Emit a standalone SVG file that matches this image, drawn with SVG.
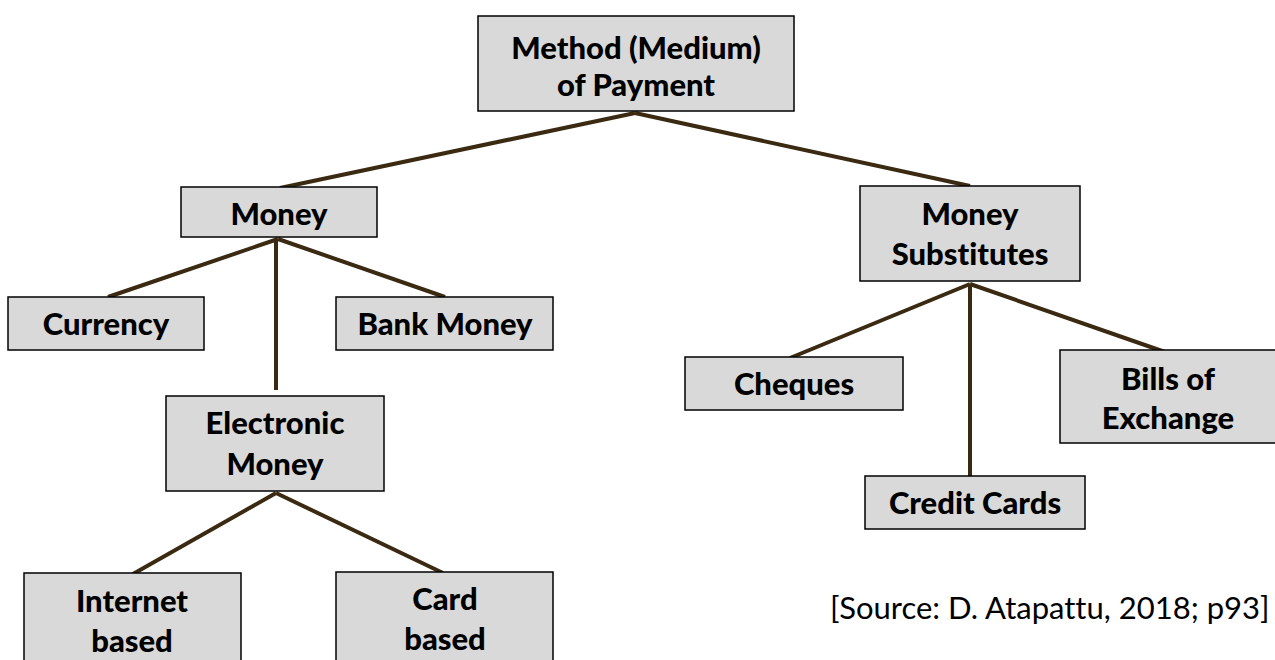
<svg xmlns="http://www.w3.org/2000/svg" width="1275" height="660" viewBox="0 0 1275 660">
<style>
.box{fill:#d9d9d9;stroke:#000;stroke-width:1.5}
.lbl{font-family:Lato,"Open Sans",sans-serif;font-weight:900;font-size:31px;fill:#000;text-anchor:middle;font-variant-ligatures:none}
.src{font-family:Lato,"Open Sans",sans-serif;font-size:31px;fill:#000;font-variant-ligatures:none}
.conn line{stroke:#3b2a12;stroke-width:4}
</style>
<rect width="1275" height="660" fill="#fff"/>
<g class="conn">
<line x1="635" y1="113" x2="280" y2="188"/>
<line x1="635" y1="113" x2="970" y2="186"/>
<line x1="278" y1="239" x2="108" y2="297"/>
<line x1="278" y1="239" x2="445" y2="297"/>
<line x1="276" y1="239" x2="276" y2="390"/>
<line x1="276" y1="493" x2="133" y2="574"/>
<line x1="276" y1="493" x2="443" y2="573"/>
<line x1="970" y1="284" x2="790" y2="358"/>
<line x1="970" y1="284" x2="970" y2="476"/>
<line x1="970" y1="284" x2="1165" y2="352"/>
</g>
<g id="n-method"><rect class="box" x="478" y="16" width="316" height="95"/><text class="lbl" x="636" y="59">Method (Medium)</text><text class="lbl" x="636" y="96">of Payment</text></g>
<g id="n-money"><rect class="box" x="181" y="187" width="196" height="50"/><text class="lbl" x="279" y="225">Money</text></g>
<g id="n-subst"><rect class="box" x="860" y="186" width="220" height="95"/><text class="lbl" x="970" y="225">Money</text><text class="lbl" x="970" y="265">Substitutes</text></g>
<g id="n-currency"><rect class="box" x="8" y="297" width="196" height="53"/><text class="lbl" x="106" y="335">Currency</text></g>
<g id="n-bank"><rect class="box" x="336" y="297" width="217" height="53"/><text class="lbl" x="445" y="335">Bank Money</text></g>
<g id="n-emoney"><rect class="box" x="166" y="396" width="218" height="95"/><text class="lbl" x="275" y="434">Electronic</text><text class="lbl" x="275" y="475">Money</text></g>
<g id="n-internet"><rect class="box" x="24" y="573" width="217" height="95"/><text class="lbl" x="132" y="612">Internet</text><text class="lbl" x="132" y="652">based</text></g>
<g id="n-card"><rect class="box" x="336" y="572" width="217" height="95"/><text class="lbl" x="445" y="610">Card</text><text class="lbl" x="445" y="650">based</text></g>
<g id="n-cheques"><rect class="box" x="685" y="357" width="218" height="53"/><text class="lbl" x="794" y="395">Cheques</text></g>
<g id="n-bills"><rect class="box" x="1060" y="350" width="225" height="93"/><text class="lbl" x="1168" y="390">Bills of</text><text class="lbl" x="1168" y="429">Exchange</text></g>
<g id="n-credit"><rect class="box" x="865" y="476" width="220" height="53"/><text class="lbl" x="975" y="514">Credit Cards</text></g>
<text class="src" x="830" y="619">[Source: D. Atapattu, 2018; p93]</text>
</svg>
